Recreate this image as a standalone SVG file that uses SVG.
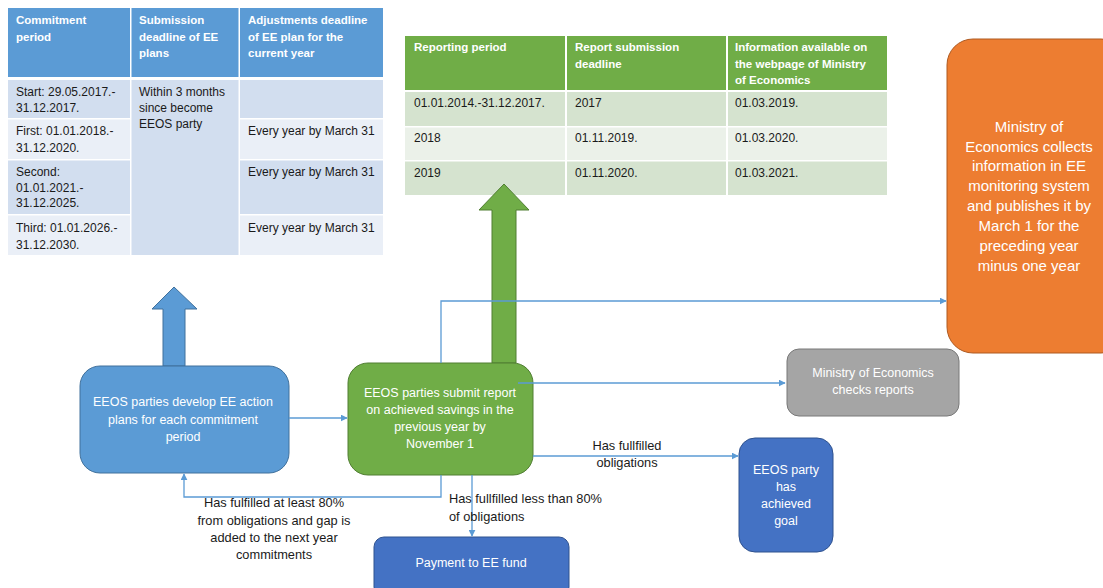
<svg xmlns="http://www.w3.org/2000/svg" width="1103" height="588" viewBox="0 0 1103 588">
  <defs>
    <marker id="arr" viewBox="0 0 10 10" refX="9" refY="5" markerWidth="7" markerHeight="7" markerUnits="userSpaceOnUse" orient="auto">
      <path d="M0,0 L10,5 L0,10 z" fill="#5b9bd5"/>
    </marker>
    <style>
      text { font-family: "Liberation Sans", Arial, sans-serif; }
      .th { font-size: 11.5px; font-weight: bold; fill: #ffffff; }
      .td { font-size: 12px; fill: #1a1a1a; }
      .bh { fill: #5b9bd5; }
      .bd { fill: #d2deef; }
      .bl { fill: #eaeff7; }
      .gh { fill: #70ad47; }
      .gd { fill: #d5e3cf; }
      .gl { fill: #ebf1e9; }
      .node-text { font-size: 12.5px; fill: #ffffff; text-anchor: middle; }
      .big-text { font-size: 15px; fill: #ffffff; text-anchor: middle; }
      .lbl { font-size: 12.8px; fill: #1a1a1a; }
      .conn { fill: none; stroke: #5b9bd5; stroke-width: 1.3; }
    </style>
  </defs>
  <rect width="1103" height="588" fill="#ffffff"/>

  <!-- commitment periods table -->
  <g id="table-commitment">
    <rect class="bh" x="8" y="8" width="122" height="69"/>
    <rect class="bh" x="131.5" y="8" width="107" height="69"/>
    <rect class="bh" x="240" y="8" width="143" height="69"/>
    <rect class="bd" x="8" y="80" width="122" height="38"/>
    <rect class="bl" x="8" y="119.5" width="122" height="39.5"/>
    <rect class="bd" x="8" y="160.5" width="122" height="53.5"/>
    <rect class="bl" x="8" y="215.5" width="122" height="39.5"/>
    <rect class="bd" x="131.5" y="80" width="107" height="175"/>
    <rect class="bd" x="240" y="80" width="143" height="38"/>
    <rect class="bl" x="240" y="119.5" width="143" height="39.5"/>
    <rect class="bd" x="240" y="160.5" width="143" height="53.5"/>
    <rect class="bl" x="240" y="215.5" width="143" height="39.5"/>
    <text class="th" x="16" y="24">Commitment</text>
    <text class="th" x="16" y="41">period</text>
    <text class="th" x="139" y="24">Submission</text>
    <text class="th" x="139" y="41">deadline of EE</text>
    <text class="th" x="139" y="57">plans</text>
    <text class="th" x="248" y="24">Adjustments deadline</text>
    <text class="th" x="248" y="41">of EE plan for the</text>
    <text class="th" x="248" y="57">current year</text>
    <text class="td" x="16" y="96">Start: 29.05.2017.-</text>
    <text class="td" x="16" y="112">31.12.2017.</text>
    <text class="td" x="16" y="135">First: 01.01.2018.-</text>
    <text class="td" x="16" y="152">31.12.2020.</text>
    <text class="td" x="16" y="176">Second:</text>
    <text class="td" x="16" y="192">01.01.2021.-</text>
    <text class="td" x="16" y="207">31.12.2025.</text>
    <text class="td" x="16" y="232">Third: 01.01.2026.-</text>
    <text class="td" x="16" y="249">31.12.2030.</text>
    <text class="td" x="139" y="96">Within 3 months</text>
    <text class="td" x="139" y="112">since become</text>
    <text class="td" x="139" y="128">EEOS party</text>
    <text class="td" x="248" y="135">Every year by March 31</text>
    <text class="td" x="248" y="176">Every year by March 31</text>
    <text class="td" x="248" y="232">Every year by March 31</text>
  </g>

  <!-- reporting periods table -->
  <g id="table-reporting">
    <rect class="gh" x="405" y="36" width="160" height="54"/>
    <rect class="gh" x="567" y="36" width="159" height="54"/>
    <rect class="gh" x="728" y="36" width="159" height="54"/>
    <rect class="gd" x="405" y="92" width="160" height="34"/>
    <rect class="gd" x="567" y="92" width="159" height="34"/>
    <rect class="gd" x="728" y="92" width="159" height="34"/>
    <rect class="gl" x="405" y="127.5" width="160" height="32.5"/>
    <rect class="gl" x="567" y="127.5" width="159" height="32.5"/>
    <rect class="gl" x="728" y="127.5" width="159" height="32.5"/>
    <rect class="gd" x="405" y="161.5" width="160" height="33.5"/>
    <rect class="gd" x="567" y="161.5" width="159" height="33.5"/>
    <rect class="gd" x="728" y="161.5" width="159" height="33.5"/>
    <text class="th" x="414" y="51">Reporting period</text>
    <text class="th" x="575" y="51">Report submission</text>
    <text class="th" x="575" y="68">deadline</text>
    <text class="th" x="735" y="51">Information available on</text>
    <text class="th" x="735" y="68">the webpage of Ministry</text>
    <text class="th" x="735" y="84">of Economics</text>
    <text class="td" x="414" y="107">01.01.2014.-31.12.2017.</text>
    <text class="td" x="575" y="107">2017</text>
    <text class="td" x="735" y="107">01.03.2019.</text>
    <text class="td" x="414" y="142">2018</text>
    <text class="td" x="575" y="142">01.11.2019.</text>
    <text class="td" x="735" y="142">01.03.2020.</text>
    <text class="td" x="414" y="177">2019</text>
    <text class="td" x="575" y="177">01.11.2020.</text>
    <text class="td" x="735" y="177">01.03.2021.</text>
  </g>

  <!-- block arrows pointing at the tables -->
  <g id="arrow-plans">
    <path d="M163,366 L163,309 L152,309 L174,287 L197,309 L185,309 L185,366 z" fill="#5b9bd5" stroke="#41719c" stroke-width="1"/>
  </g>
  <g id="arrow-reports">
    <path d="M492,363 L492,210 L479,210 L504,184 L529,210 L516,210 L516,363 z" fill="#70ad47" stroke="#507e32" stroke-width="1"/>
  </g>

  <g id="node-plans">
    <rect x="80" y="366" width="209" height="107" rx="20" fill="#5b9bd5" stroke="#41719c" stroke-width="1"/>
    <text class="node-text" x="183" y="406">EEOS parties develop EE action</text>
    <text class="node-text" x="183" y="424">plans for each commitment</text>
    <text class="node-text" x="183" y="441">period</text>
  </g>

  <g id="node-submit">
    <rect x="348" y="363" width="185" height="112" rx="20" fill="#70ad47" stroke="#507e32" stroke-width="1"/>
    <text class="node-text" x="440" y="397">EEOS parties submit report</text>
    <text class="node-text" x="440" y="414">on achieved savings in the</text>
    <text class="node-text" x="440" y="431">previous year by</text>
    <text class="node-text" x="440" y="448">November 1</text>
  </g>

  <g id="node-collects">
    <rect x="947" y="39" width="180" height="314" rx="26" fill="#ed7d31" stroke="#ae5a21" stroke-width="1"/>
    <text class="big-text" x="1029" y="132">Ministry of</text>
    <text class="big-text" x="1029" y="152">Economics collects</text>
    <text class="big-text" x="1029" y="171">information in EE</text>
    <text class="big-text" x="1029" y="191">monitoring system</text>
    <text class="big-text" x="1029" y="211">and publishes it by</text>
    <text class="big-text" x="1029" y="231">March 1 for the</text>
    <text class="big-text" x="1029" y="251">preceding year</text>
    <text class="big-text" x="1029" y="271">minus one year</text>
  </g>

  <g id="node-checks">
    <rect x="787" y="349" width="172" height="67" rx="12" fill="#a5a5a5" stroke="#787878" stroke-width="1"/>
    <text class="node-text" x="873" y="377">Ministry of Economics</text>
    <text class="node-text" x="873" y="394">checks reports</text>
  </g>

  <g id="node-achieved">
    <rect x="739" y="438" width="94" height="114" rx="16" fill="#4472c4" stroke="#2f528f" stroke-width="1"/>
    <text class="node-text" x="786" y="474">EEOS party</text>
    <text class="node-text" x="786" y="491">has</text>
    <text class="node-text" x="786" y="508">achieved</text>
    <text class="node-text" x="786" y="525">goal</text>
  </g>

  <g id="node-payment">
    <rect x="374" y="537" width="195" height="60" rx="10" fill="#4472c4" stroke="#2f528f" stroke-width="1"/>
    <text class="node-text" x="471" y="567">Payment to EE fund</text>
  </g>

  <g id="connectors">
    <path class="conn" d="M289,418 L347,418" marker-end="url(#arr)"/>
    <path class="conn" d="M441,363 L441,301 L946,301" marker-end="url(#arr)"/>
    <path class="conn" d="M518,383 L785,383" marker-end="url(#arr)"/>
    <path class="conn" d="M533,456 L738,456" marker-end="url(#arr)"/>
    <path class="conn" d="M441,475 L441,497 L184,497 L184,474" marker-end="url(#arr)"/>
    <path class="conn" d="M472,475 L472,536" marker-end="url(#arr)"/>
  </g>

  <g id="labels">
    <text class="lbl" x="627" y="450" text-anchor="middle">Has fullfilled</text>
    <text class="lbl" x="627" y="467" text-anchor="middle">obligations</text>
    <text class="lbl" x="274" y="507" text-anchor="middle">Has fulfilled at least 80%</text>
    <text class="lbl" x="274" y="525" text-anchor="middle">from obligations and gap is</text>
    <text class="lbl" x="274" y="542" text-anchor="middle">added to the next year</text>
    <text class="lbl" x="274" y="559" text-anchor="middle">commitments</text>
    <text class="lbl" x="449" y="503">Has fullfilled less than 80%</text>
    <text class="lbl" x="449" y="521">of obligations</text>
  </g>
</svg>
